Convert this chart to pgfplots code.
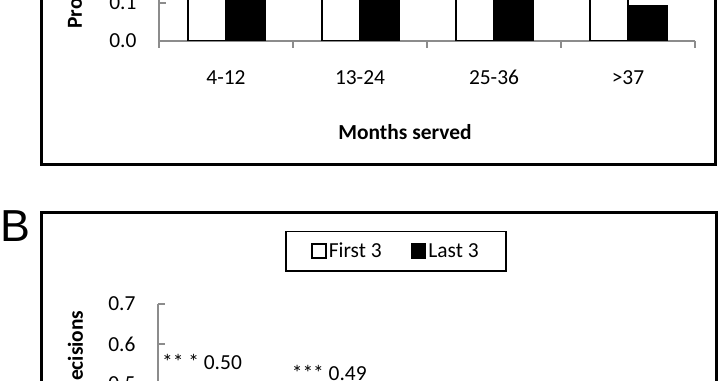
\documentclass[border=0pt]{standalone}
\usepackage{fontspec}
\setmainfont{Carlito}
\newfontfamily\bfont{Liberation Sans}
\usepackage{pgfplots}
\pgfplotsset{compat=1.18}
\pgfplotsset{
  myax/.style={
    scale only axis, width=536bp,
    xmin=-0.5, xmax=3.5, ymin=0, ymax=0.7,
    axis lines*=left,
    axis line style={draw=black!45, line width=1.6bp},
    tick align=inside,
    major tick length=7bp, minor tick length=7bp,
    every tick/.style={draw=black!45, line width=1.6bp},
    ytick={0,0.1,0.2,0.3,0.4,0.5,0.6,0.7},
    xtick={0,1,2,3},
    every major x tick/.append style={draw=none},
    minor xtick={-0.5,0.5,1.5,2.5,3.5},
    every minor x tick/.append style={yshift=-7bp},
    /pgf/number format/assume math mode=true,
    ticklabel style={font=\fontsize{21.5}{25}\selectfont},
    yticklabel style={anchor=east, xshift=-19bp, /pgf/number format/fixed, /pgf/number format/fixed zerofill, /pgf/number format/precision=1},
    xticklabel style={anchor=base, yshift=-44bp},
    label style={font=\fontsize{21.5}{25}\selectfont\bfseries},
  }
}
\begin{document}
\begin{tikzpicture}[x=1bp,y=1bp]
\useasboundingbox (0,0) rectangle (720,380);
\clip (0,0) rectangle (720,380);
\fill[white] (0,0) rectangle (720,380);
% panel frames
\draw[line width=3bp] (41,430) -- (41,216) -- (715,216) -- (715,430);
\draw[line width=3bp] (41,-60) -- (41,167.5) -- (716,167.5) -- (716,-60);
\node[anchor=west, inner sep=0pt, font=\bfont\fontsize{45}{48}\selectfont] at (0,154) {B};

% Panel A
\begin{axis}[myax, at={(159bp,339bp)}, anchor=south west, height=266bp,
  xticklabels={4-12,13-24,25-36,>37},
  ylabel={Proportion favorable decisions},
  ylabel style={at={(axis description cs:-0.155,0.034)}, anchor=west},
  xlabel={Months served},
  xlabel style={at={(axis description cs:0.459,-0.342)}, anchor=center},
]
\addplot[ybar, bar width=38.5bp, bar shift=-19.25bp, fill=white, draw=black, line width=2bp]
  coordinates {(0,0.62) (1,0.55) (2,0.58) (3,0.50)};
\addplot[ybar, bar width=38.5bp, bar shift=19.25bp, fill=black, draw=black, line width=2bp]
  coordinates {(0,0.30) (1,0.27) (2,0.22) (3,0.092)};
\end{axis}

% Panel B
\begin{axis}[myax, at={(158bp,-204bp)}, anchor=south west, height=280bp, width=537bp,
  xticklabels={},
  ylabel={Proportion favorable decisions},
  ylabel style={at={(axis description cs:-0.151,0.989)}, anchor=east},
  legend columns=2,
  legend style={at={(axis description cs:0.443,1.189)}, anchor=center, draw=black, line width=1.8bp,
    font=\fontsize{21.5}{25}\selectfont, inner xsep=25bp, inner ysep=9.5bp,
    /tikz/every even column/.append style={column sep=27bp}},
]
\addplot[ybar, bar width=38.5bp, bar shift=-19.25bp, fill=white, draw=black, line width=2bp,
  legend image code/.code={\draw[fill=white, line width=1.8bp] (0bp,-7bp) rectangle (14bp,7bp);}]
  coordinates {(0,0.50) (1,0.49) (2,0.46) (3,0.44)};
\addlegendentry{First 3}
\addplot[ybar, bar width=38.5bp, bar shift=19.25bp, fill=black, draw=black, line width=2bp,
  legend image code/.code={\draw[fill=black, line width=1.8bp] (0bp,-7bp) rectangle (14bp,7bp);}]
  coordinates {(0,0.30) (1,0.26) (2,0.28) (3,0.22)};
\addlegendentry{Last 3}
\addplot[draw=none, mark=none, forget plot, nodes near coords, point meta=explicit symbolic,
  nodes near coords style={font=\fontsize{21.5}{25}\selectfont, anchor=center, yshift=22bp}]
  coordinates {(-0.172,0.50) [** * 0.50]};
\addplot[draw=none, mark=none, forget plot, nodes near coords, point meta=explicit symbolic,
  nodes near coords style={font=\fontsize{21.5}{25}\selectfont, anchor=center, yshift=15bp}]
  coordinates {(0.776,0.49) [*** 0.49]};
\end{axis}
\end{tikzpicture}
\end{document}
